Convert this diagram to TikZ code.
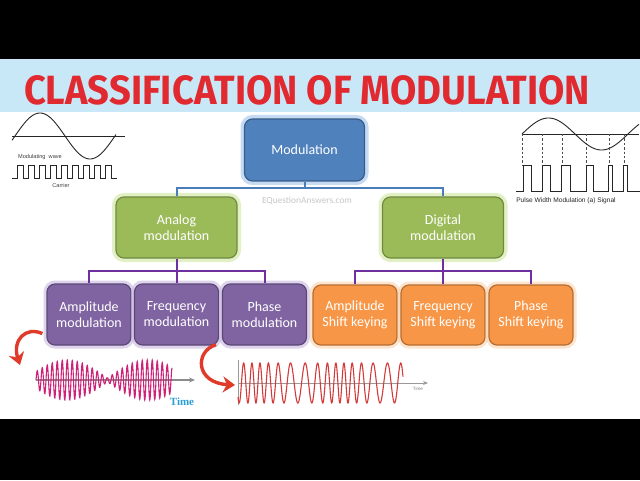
\documentclass[tikz,border=0pt]{standalone}
\usepackage{fontspec}
\usepackage{graphicx}
\usetikzlibrary{arrows.meta,calc}
\newfontfamily\boxfont{Carlito}
\newfontfamily\titlefont{Fira Sans}
\newfontfamily\arialfont{Liberation Sans}
\newfontfamily\serifb{Liberation Serif}
\definecolor{banner}{HTML}{C8E8F8}
\definecolor{titlered}{HTML}{E02A30}
\definecolor{modblue}{HTML}{4F81BD}
\definecolor{modblueD}{HTML}{385D8A}
\definecolor{modglow}{HTML}{8FB8E8}
\definecolor{grn}{HTML}{9BBB59}
\definecolor{grnD}{HTML}{71893F}
\definecolor{grnglow}{HTML}{CFE6A0}
\definecolor{pur}{HTML}{8064A2}
\definecolor{purD}{HTML}{5C4776}
\definecolor{purglow}{HTML}{C8B8E0}
\definecolor{org}{HTML}{F79646}
\definecolor{orgD}{HTML}{B66D31}
\definecolor{orgglow}{HTML}{FBD3AE}
\definecolor{conblue}{HTML}{4A7EBB}
\definecolor{conpur}{HTML}{7030A0}
\definecolor{arrred}{HTML}{E03A2A}
\definecolor{amwave}{HTML}{CC2277}
\definecolor{fmwave}{HTML}{D43A3A}
\definecolor{timeblue}{HTML}{2A9FD6}
\begin{document}
\begin{tikzpicture}[x=0.5pt,y=-0.5pt,
  box/.style={rectangle, rounded corners=4pt, line width=0.6pt, align=center,
    text=white, font=\boxfont\fontsize{7}{8}\selectfont, inner sep=0pt},
  bluebox/.style={box, fill=modblue, draw=modblueD, minimum width=60pt, minimum height=31pt,
    preaction={draw=modglow, line width=4pt, opacity=0.5}},
  greenbox/.style={box, fill=grn, draw=grnD, minimum width=60.5pt, minimum height=30.5pt,
    preaction={draw=grnglow, line width=4pt, opacity=0.6}},
  purbox/.style={box, fill=pur, draw=purD, minimum width=42pt, minimum height=30.5pt,
    preaction={draw=purglow, line width=3.5pt, opacity=0.6}},
  orgbox/.style={box, fill=org, draw=orgD, minimum width=42pt, minimum height=30pt,
    preaction={draw=orgglow, line width=3.5pt, opacity=0.6}},
  bluecon/.style={draw=conblue, line width=1pt},
  purcon/.style={draw=conpur, line width=1pt},
  redarrow/.style={draw=arrred, line width=1.7pt, -{Stealth[length=6pt,width=8pt]}},
  thinblack/.style={draw=black!85, line width=0.45pt},
  tinytext/.style={inner sep=0pt, text=black!75},
]
\useasboundingbox (0,0) rectangle (640,480);
% background
\fill[white] (0,0) rectangle (640,480);
\fill[black] (0,0) rectangle (640,59);
\fill[black] (0,419) rectangle (640,480);
\fill[banner] (0,59) rectangle (640,112);
\node[inner sep=0pt, text=titlered] (title) at (307,90)
  {\resizebox{283pt}{14.5pt}{\titlefont\bfseries CLASSIFICATION OF MODULATION}};

% watermark
\node[inner sep=0pt, text=black!22, font=\boxfont\fontsize{4.7}{5}\selectfont] (wm) at (307,201) {EQuestionAnswers.com};

% nodes
\node[bluebox] (mod) at (304.5,150) {Modulation};
\node[greenbox] (analog) at (176.5,227.5) {Analog\\modulation};
\node[greenbox] (digital) at (443,227.5) {Digital\\modulation};
\node[purbox] (am) at (89,314.5) {Amplitude\\modulation};
\node[purbox] (fm) at (176.5,314.5) {Frequency\\modulation};
\node[purbox] (pm) at (264.5,314.5) {Phase\\modulation};
\node[orgbox] (ask) at (355,315) {Amplitude\\Shift keying};
\node[orgbox] (fsk) at (443,315) {Frequency\\Shift keying};
\node[orgbox] (psk) at (531,315) {Phase\\Shift keying};

% connectors
\coordinate (j1) at (304.5,188);
\coordinate (j2) at (176.5,271);
\coordinate (j3) at (443,271);
\draw[bluecon] (mod.south) -- (j1);
\draw[bluecon] (analog.north) |- (j1) -| (digital.north);
\draw[purcon] (analog.south) -- (j2);
\draw[purcon] (am.north) |- (j2) -| (pm.north);
\draw[purcon] (fm.north) -- (j2);
\draw[purcon] (digital.south) -- (j3);
\draw[purcon] (ask.north) |- (j3) -| (psk.north);
\draw[purcon] (fsk.north) -- (j3);

% top-left: modulating wave and carrier
\draw[thinblack] (12,136) -- (125,136);
\draw[thinblack] plot[domain=12:116, samples=80, smooth] (\x, {136 - 23*sin(3.6*(\x-15))});
\node[tinytext, font=\arialfont\fontsize{2.8}{3}\selectfont] (mw) at (40,157) {Modulating\ \ wave};
\draw[thinblack] (12,178) foreach \i in {0,...,8} { -- ({17+11*\i},178) -- ({17+11*\i},165) -- ({23+11*\i},165) -- ({23+11*\i},178) } -- (117,178);
\node[tinytext, font=\arialfont\fontsize{2.8}{3}\selectfont] (car) at (61,185) {Carrier};

% top-right: PWM
\draw[thinblack] (522,134) -- (639,134);
\draw[thinblack] plot[domain=522:639, samples=80, smooth] (\x, {134 - 16*sin(3.3962*(\x-522))});
\foreach \xx in {522,542,562,586,609,624} {
  \draw[draw=black!70, line width=0.35pt, dash pattern=on 1.2pt off 1pt] (\xx,134) -- (\xx,165);
}
\draw[thinblack] (516,191) -- (523,191) -- (523,165) -- (531,165) -- (531,191)
  -- (542,191) -- (542,165) -- (550,165) -- (550,191)
  -- (561,191) -- (561,165) -- (570,165) -- (570,191)
  -- (586,191) -- (586,165) -- (593,165) -- (593,191)
  -- (608,191) -- (608,165) -- (612,165) -- (612,191)
  -- (623,191) -- (623,165) -- (627,165) -- (627,191) -- (640,191);
\node[tinytext, text=black!85, font=\arialfont\fontsize{3.3}{4}\selectfont] (pwm) at (566,201) {Pulse Width Modulation (a) Signal};

% red curved arrows
\draw[redarrow] ([shift={(-4,-12)}]am.south west) .. controls (26,326) and (12,340) .. (20,365);
\draw[redarrow] ([shift={(-6,-1)}]pm.south west) .. controls (194,352) and (196,383) .. (235,385);

% AM wave
\draw[draw=black!45, line width=0.6pt, -{Stealth[length=3pt,width=2.5pt]}] (36,380) -- (195,380);
\draw[draw=amwave, line width=0.55pt] plot[domain=36:172, samples=600] (\x, {380 - (2+18*abs(cos(2.2222*(\x-67))))*sin(72*(\x-36))});
\node[inner sep=0pt, text=timeblue, font=\serifb\bfseries\fontsize{5.5}{6}\selectfont] (amtime) at (182,402) {Time};

% FM wave
\draw[draw=black!40, line width=0.5pt] (238,360) -- (238,405);
\draw[draw=black!40, line width=0.5pt, -{Stealth[length=2.5pt,width=2pt]}] (238,383) -- (428,383);
\draw[draw=fmwave, line width=0.55pt] plot[domain=238:403, samples=700] (\x, {383 - 20*sin(34.56*(\x-238) + 142.9*sin(4.186*(\x-255)))});
\node[inner sep=0pt, text=black!50, font=\arialfont\fontsize{2.3}{3}\selectfont] (fmtime) at (418,389) {Time};
\end{tikzpicture}
\end{document}
